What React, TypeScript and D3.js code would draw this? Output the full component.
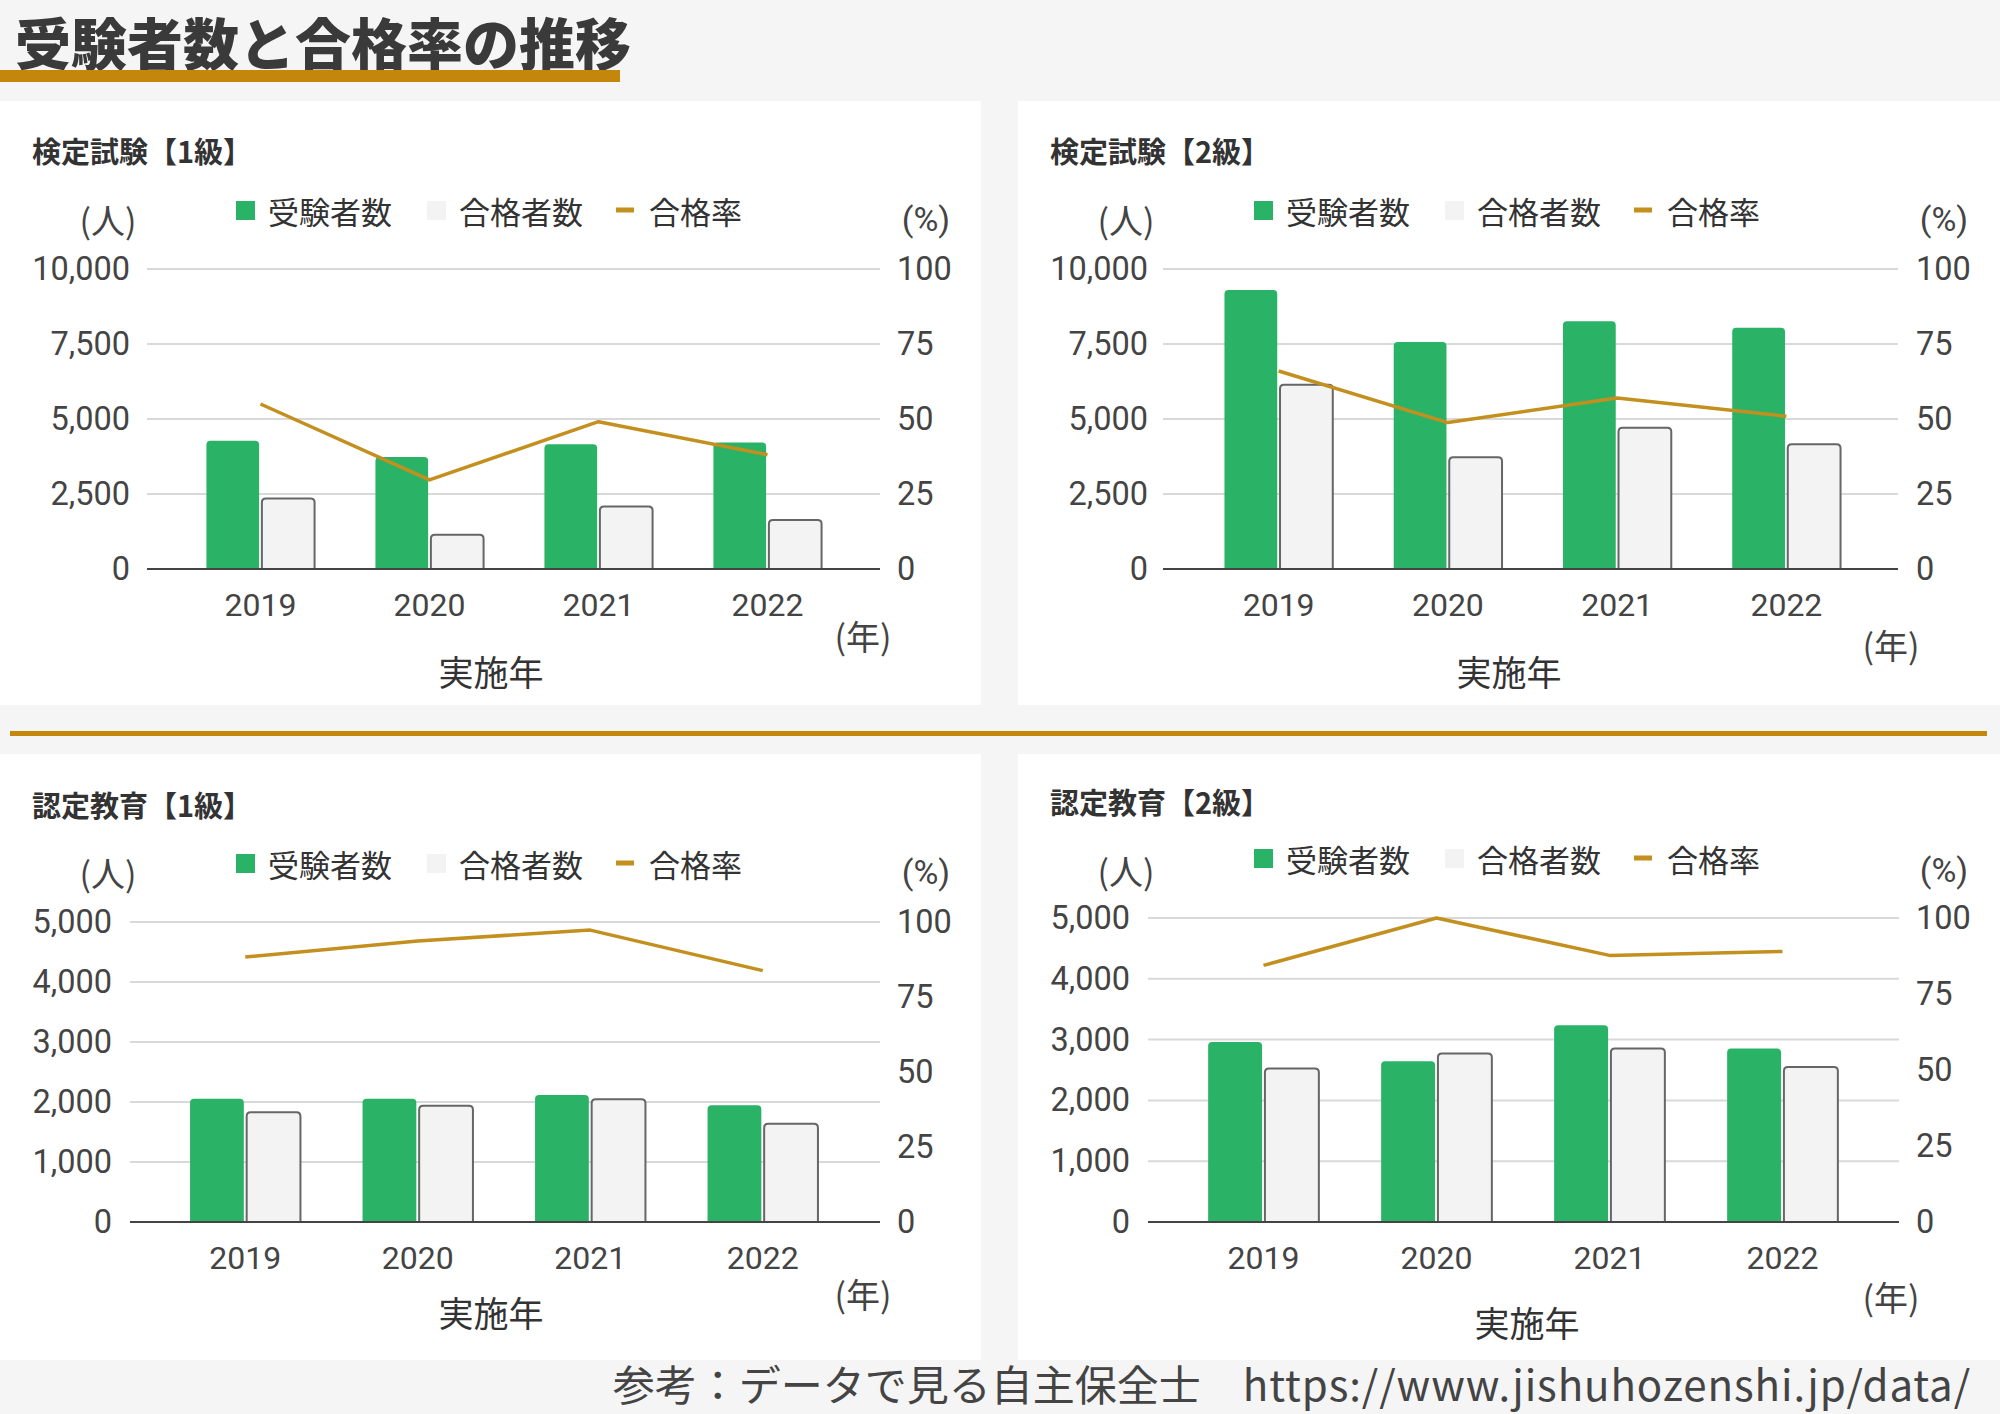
import * as d3 from "d3";

const years = ["2019", "2020", "2021", "2022"];
const seriesNames = ["受験者数", "合格者数", "合格率"];
const panelTitles = ["検定試験【1級】", "検定試験【2級】", "認定教育【1級】", "認定教育【2級】"];

// 受験者数 / 合格者数 / 合格率(%)
const exam1Takers = [4271, 3734, 4156, 4220];
const exam1Passed = [2353, 1138, 2084, 1637];
const exam1Rate = [55.0, 29.7, 49.1, 38.1];

const exam2Takers = [9297, 7570, 8261, 8043];
const exam2Passed = [6138, 3721, 4706, 4156];
const exam2Rate = [66.0, 48.8, 57.0, 50.9];

const edu1Takers = [2053, 2053, 2115, 1944];
const edu1Passed = [1828, 1937, 2046, 1637];
const edu1Rate = [88.3, 93.7, 97.3, 83.8];

const edu2Takers = [2960, 2644, 3235, 2852];
const edu2Passed = [2523, 2772, 2852, 2550];
const edu2Rate = [84.4, 100, 87.7, 89.0];

const leftTicksExam = [0, 2500, 5000, 7500, 10000];
const leftTicksEdu = [0, 1000, 2000, 3000, 4000, 5000];
const rightTicks = [0, 25, 50, 75, 100];

const GREEN = "#2ab366";
const GREY = "#f3f3f3";
const GOLD = "#c3901f";
const CJK = "'Noto Sans CJK JP', sans-serif";
const NUM = "Roboto, 'Noto Sans CJK JP', sans-serif";

const panels = [
  {
    title: panelTitles[0], takers: exam1Takers, passed: exam1Passed, rate: exam1Rate, ticks: leftTicksExam,
    box: { x: 0, y: 101, w: 981, h: 604 }, titleY: 150, legendY: 210, unitY: 219,
    left: 147, right: 880, top: 269, bottom: 569, band: [176, 852], labelEnd: 130, labelStart: 897,
    yearY: 605, nenX: 863, nenY: 635, axisX: 491, axisY: 670, dx: 0,
  },
  {
    title: panelTitles[1], takers: exam2Takers, passed: exam2Passed, rate: exam2Rate, ticks: leftTicksExam,
    box: { x: 1018, y: 101, w: 982, h: 604 }, titleY: 150, legendY: 210, unitY: 219,
    left: 1163, right: 1898, top: 269, bottom: 569, band: [1194, 1871], labelEnd: 1148, labelStart: 1916,
    yearY: 605, nenX: 1891, nenY: 644, axisX: 1509, axisY: 670, dx: 1018,
  },
  {
    title: panelTitles[2], takers: edu1Takers, passed: edu1Passed, rate: edu1Rate, ticks: leftTicksEdu,
    box: { x: 0, y: 754, w: 981, h: 606 }, titleY: 804, legendY: 863, unitY: 872,
    left: 130, right: 880, top: 922, bottom: 1222, band: [159, 849], labelEnd: 112, labelStart: 897,
    yearY: 1258, nenX: 863, nenY: 1293, axisX: 491, axisY: 1311, dx: 0,
  },
  {
    title: panelTitles[3], takers: edu2Takers, passed: edu2Passed, rate: edu2Rate, ticks: leftTicksEdu,
    box: { x: 1018, y: 754, w: 982, h: 606 }, titleY: 801, legendY: 858, unitY: 870,
    left: 1148, right: 1899, top: 918, bottom: 1222, band: [1177, 1869], labelEnd: 1130, labelStart: 1916,
    yearY: 1258, nenX: 1891, nenY: 1296, axisX: 1527, axisY: 1321, dx: 1018,
  },
];

// bar with rounded top corners
const topRounded = (x, y, w, h, r) => {
  const rr = Math.min(r, h, w / 2);
  return `M${x},${y + h}V${y + rr}Q${x},${y} ${x + rr},${y}H${x + w - rr}Q${x + w},${y} ${x + w},${y + rr}V${y + h}Z`;
};

const fmt = d3.format(",");

const Panel = ({ p }) => {
  const maxL = p.ticks[p.ticks.length - 1];
  const yL = d3.scaleLinear().domain([0, maxL]).range([p.bottom, p.top]);
  const yR = d3.scaleLinear().domain([0, 100]).range([p.bottom, p.top]);
  const x = d3.scaleBand().domain(years).range(p.band).paddingInner(0.36).paddingOuter(0.18);
  const xs = d3.scaleBand().domain(["t", "p"]).range([0, x.bandwidth()]).paddingInner(0.05);
  const line = d3
    .line()
    .x((d, i) => x(years[i]) + x.bandwidth() / 2)
    .y((d) => yR(d));

  const lg = { g: 236 + p.dx, gt: 268 + p.dx, p: 427 + p.dx, pt: 459 + p.dx, r: 616 + p.dx, rt: 649 + p.dx };

  return (
    <g>
      <rect x={p.box.x} y={p.box.y} width={p.box.w} height={p.box.h} fill="#ffffff" />
      <text x={32 + p.dx} y={p.titleY} dominantBaseline="central" fontFamily={CJK} fontWeight={700} fontSize={29} fill="#333">
        {p.title}
      </text>

      {/* legend */}
      <rect x={lg.g} y={p.legendY - 9} width={19} height={19} fill={GREEN} />
      <text x={lg.gt} y={p.legendY} dominantBaseline="central" fontFamily={CJK} fontSize={31} fill="#333">{seriesNames[0]}</text>
      <rect x={lg.p} y={p.legendY - 9} width={19} height={19} fill={GREY} />
      <text x={lg.pt} y={p.legendY} dominantBaseline="central" fontFamily={CJK} fontSize={31} fill="#333">{seriesNames[1]}</text>
      <rect x={lg.r} y={p.legendY - 2.5} width={18} height={5} fill={GOLD} />
      <text x={lg.rt} y={p.legendY} dominantBaseline="central" fontFamily={CJK} fontSize={31} fill="#333">{seriesNames[2]}</text>

      <text x={108 + p.dx} y={p.unitY} textAnchor="middle" dominantBaseline="central" fontFamily={CJK} fontSize={34} fill="#444">(人)</text>
      <text x={926 + p.dx} y={p.unitY} textAnchor="middle" dominantBaseline="central" fontFamily={NUM} fontSize={34} fill="#444">(%)</text>

      {/* grid + left axis */}
      {p.ticks.map((t) => (
        <g key={"l" + t}>
          {t > 0 && <line x1={p.left} x2={p.right} y1={yL(t)} y2={yL(t)} stroke="#d9d9d9" strokeWidth={2} />}
          <text x={p.labelEnd} y={yL(t)} textAnchor="end" dominantBaseline="central" fontFamily={NUM} fontSize={32.5} fill="#444">
            {fmt(t)}
          </text>
        </g>
      ))}
      {rightTicks.map((t) => (
        <text key={"r" + t} x={p.labelStart} y={yR(t)} dominantBaseline="central" fontFamily={NUM} fontSize={32.5} fill="#444">
          {t}
        </text>
      ))}

      {/* bars */}
      {years.map((yr, i) => {
        const bx = x(yr);
        const hT = p.bottom - yL(p.takers[i]);
        const hP = p.bottom - yL(p.passed[i]);
        return (
          <g key={yr}>
            <path d={topRounded(bx + xs("t"), yL(p.takers[i]), xs.bandwidth(), hT, 4)} fill={GREEN} />
            <path d={topRounded(bx + xs("p"), yL(p.passed[i]), xs.bandwidth(), hP, 4)} fill={GREY} stroke="#666" strokeWidth={2} />
            <text x={bx + x.bandwidth() / 2} y={p.yearY} textAnchor="middle" dominantBaseline="central" fontFamily={NUM} fontSize={32} fill="#444">
              {yr}
            </text>
          </g>
        );
      })}

      <line x1={p.left} x2={p.right} y1={p.bottom} y2={p.bottom} stroke="#444" strokeWidth={2} />
      <path d={line(p.rate)} fill="none" stroke={GOLD} strokeWidth={3.5} strokeLinejoin="round" />

      <text x={p.nenX} y={p.nenY} textAnchor="middle" dominantBaseline="central" fontFamily={CJK} fontSize={34} fill="#444">(年)</text>
      <text x={p.axisX} y={p.axisY} textAnchor="middle" dominantBaseline="central" fontFamily={CJK} fontSize={35} fill="#333">実施年</text>
    </g>
  );
};

const App = () => {
  return (
    <svg width={2000} height={1414} style={{ position: "absolute", left: 0, top: 0, display: "block" }}>
      <rect width={2000} height={1414} fill="#f5f5f5" />
      <text x={15} y={40} dominantBaseline="central" fontFamily={CJK} fontWeight={900} fontSize={56} fill="#3a3a3a">
        受験者数と合格率の推移
      </text>
      <rect x={0} y={70} width={620} height={12} fill="#c4860b" />
      {panels.map((p, i) => (
        <Panel key={i} p={p} />
      ))}
      <rect x={10} y={731} width={1977} height={5} fill="#c4860b" />
      <text x={1971} y={1382} textAnchor="end" dominantBaseline="central" fontFamily={CJK} fontSize={42} fill="#444">
        参考：データで見る自主保全士　<tspan letterSpacing={0.9}>https://www.jishuhozenshi.jp/data/</tspan>
      </text>
    </svg>
  );
};

export default App;
